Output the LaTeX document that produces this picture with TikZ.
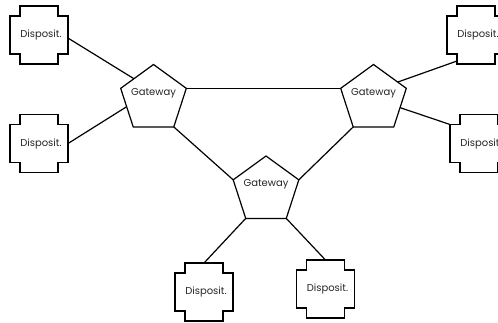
\documentclass[tikz,border=0pt]{standalone}
\usepackage{fontspec}
\setmainfont{Poppins}
\usetikzlibrary{shapes.geometric,calc}
\begin{document}
\begin{tikzpicture}[x=1pt,y=-1pt,
  link/.style={line width=1.2pt},
  lbl/.style={font=\fontsize{10}{12}\selectfont,text=black!85},
  device/.style={lbl,minimum width=58pt,minimum height=58pt,inner sep=0pt,outer sep=0pt,
    execute at begin node={\hspace{4pt}}},
  gateway/.style={draw,line width=1.2pt,regular polygon,regular polygon sides=5,
    minimum size=69pt,inner sep=0pt,outer sep=0pt},
  gwtext/.style={lbl,yshift=6pt}]
\useasboundingbox (0,0) rectangle (498,322);

% devices
\node[device] (dTL) at (39,35) {Disposit.};
\node[device] (dBL) at (39,143.5) {Disposit.};
\node[device] (dTR) at (476,35) {Disposit.};
\node[device] (dR2) at (479,143.5) {Disposit.};
\node[device] (dB1) at (204,292) {Disposit.};
\node[device] (dB2) at (325.5,289) {Disposit.};

% notched outline of every device
\foreach \d in {dTL,dBL,dTR,dR2,dB1,dB2}
  \draw[link] (\d.north west) ++(10,0) -- ++(38,0) -- ++(0,10) -- ++(10,0)
    -- ++(0,38) -- ++(-10,0) -- ++(0,10) -- ++(-38,0) -- ++(0,-10)
    -- ++(-10,0) -- ++(0,-38) -- ++(10,0) -- cycle;

% gateways
\node[gateway,label={[gwtext,name=gwLt]center:Gateway}] (gwL) at (153.5,99) {};
\node[gateway,label={[gwtext,name=gwRt]center:Gateway}] (gwR) at (373.5,99) {};
\node[gateway,label={[gwtext,name=gwBt]center:Gateway}] (gwB) at (266,190.5) {};

% links
\draw[link] (dTL.-6) -- (gwL.134);
\draw[link] (dBL.east) -- (gwL.196);
\draw[link] (gwL.corner 5) -- (gwR.corner 2);
\draw[link] (gwL.corner 4) -- (gwB.corner 2);
\draw[link] (gwR.corner 3) -- (gwB.corner 5);
\draw[link] (gwR.35) -- ($(dTR.south west)+(10,-3)$);
\draw[link] (gwR.side 4) -- ($(dR2.north west)+(0,10)$);
\draw[link] (gwB.corner 3) -- (dB1.north);
\draw[link] (gwB.corner 4) -- (dB2.north);
\end{tikzpicture}
\end{document}
